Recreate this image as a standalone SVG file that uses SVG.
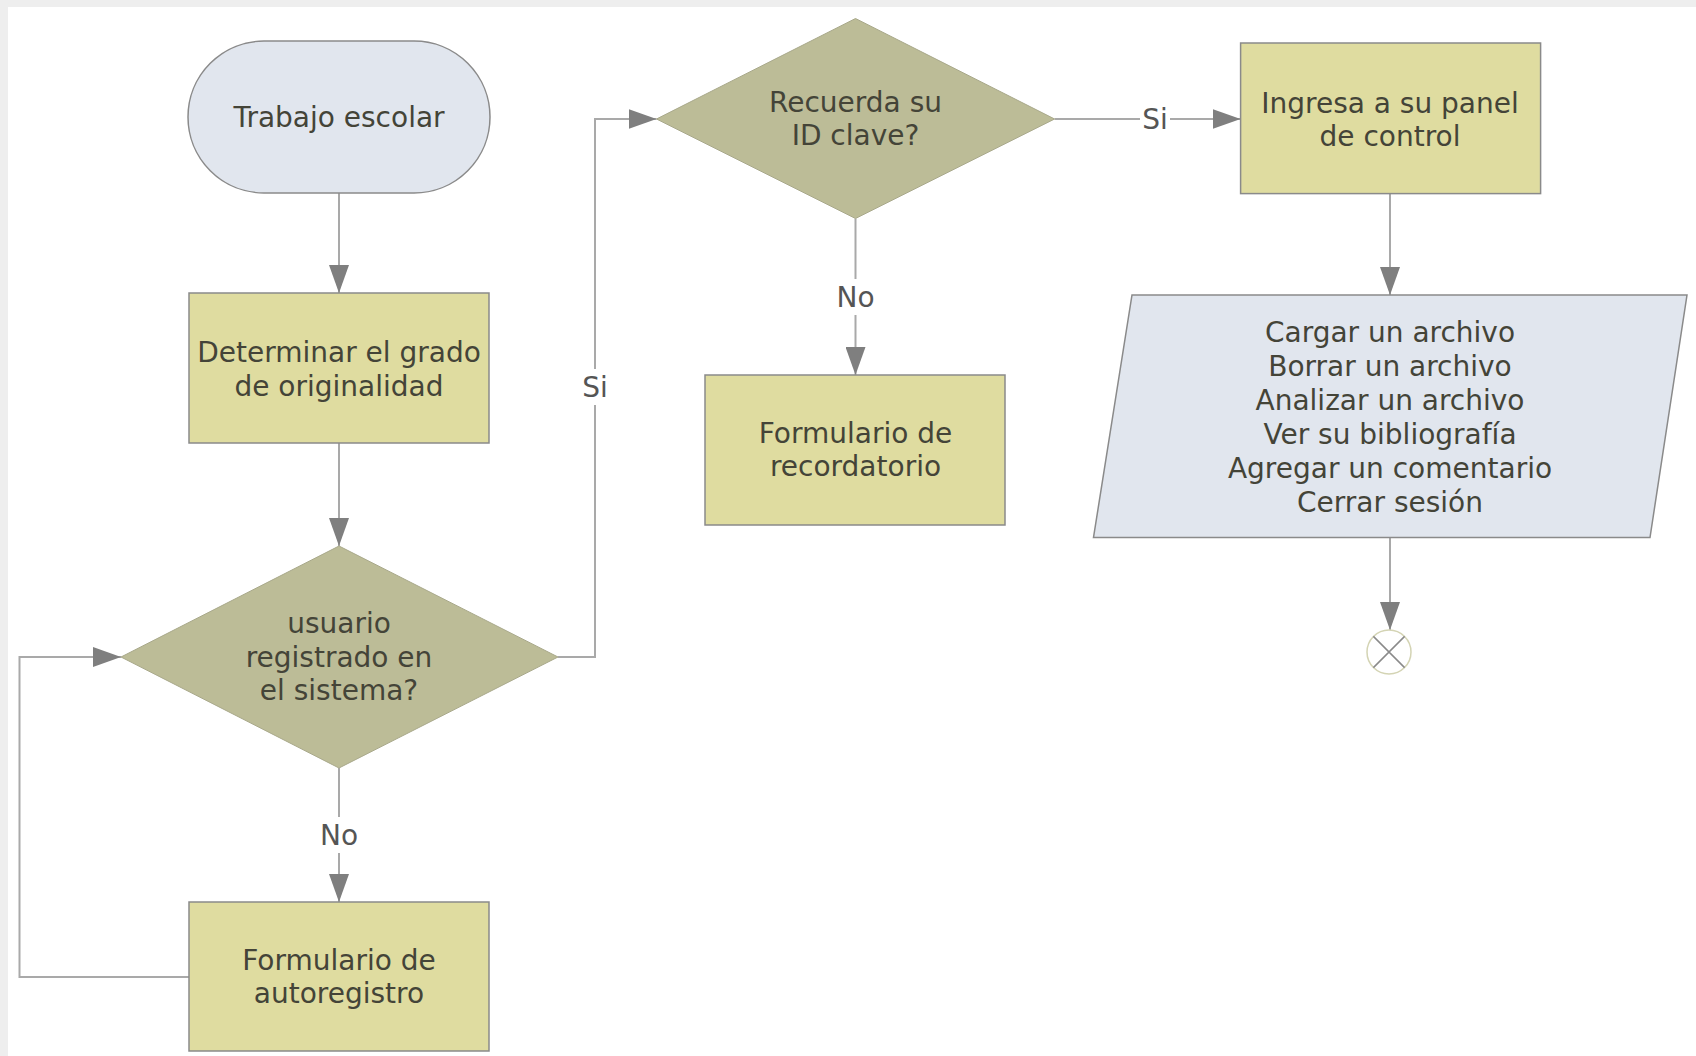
<svg xmlns="http://www.w3.org/2000/svg" width="1696" height="1056" viewBox="0 0 1696 1056">
<defs>
<marker id="arr" viewBox="0 0 28 20" refX="28" refY="10" markerWidth="28" markerHeight="20" markerUnits="userSpaceOnUse" orient="auto">
<path d="M0,0 L28,10 L0,20 Z" fill="#7f7f7f"/>
</marker>
</defs>
<style>
.bg{fill:#eeeeee}
.canvas{fill:#ffffff}
.term,.io{fill:#e1e6ee;stroke:#8a8a8a;stroke-width:1.5}
.proc{fill:#dfdca0;stroke:#8a8a8a;stroke-width:1.5}
.dec{fill:#bcbc97;stroke:#a8a88a;stroke-width:1}
.edge{fill:none;stroke:#a9a9a9;stroke-width:2;marker-end:url(#arr)}
.line{fill:none;stroke:#a9a9a9;stroke-width:2}
text{font-family:"DejaVu Sans",Verdana,sans-serif;font-size:28px;fill:#444438;text-anchor:middle}
.lbl{fill:#555555}
.lblbg{fill:#ffffff}
</style>
<rect class="bg" x="0" y="0" width="1696" height="1056"/>
<rect class="canvas" x="8" y="7" width="1688" height="1049"/>

<g id="connectors">
<path class="edge" d="M339,193 L339,293"/>
<path class="edge" d="M339,443 L339,546"/>
<path class="edge" d="M339,768 L339,902"/>
<path class="edge" d="M189,977 L19.5,977 L19.5,657 L121,657"/>
<path class="edge" d="M558,657 L595,657 L595,119 L656.5,119"/>
<path class="edge" d="M855.5,218.5 L855.5,375"/>
<path class="edge" d="M1054.6,119 L1240.6,119"/>
<path class="edge" d="M1390,193.6 L1390,295"/>
<path class="edge" d="M1390,537.5 L1390,630"/>
<rect class="lblbg" x="320" y="817" width="38" height="36"/>
<text class="lbl" x="339" y="845">No</text>
<rect class="lblbg" x="836" y="279" width="38" height="36"/>
<text class="lbl" x="855.5" y="307">No</text>
<rect class="lblbg" x="580" y="369" width="30" height="36"/>
<text class="lbl" x="595" y="397">Si</text>
<rect class="lblbg" x="1140" y="101" width="30" height="36"/>
<text class="lbl" x="1155" y="129">Si</text>
</g>

<g id="start">
<rect class="term" x="188" y="41" width="302" height="152" rx="76" ry="76"/>
<text x="339" y="127">Trabajo escolar</text>
</g>

<g id="determinar">
<rect class="proc" x="189" y="293" width="300" height="150"/>
<text x="339" y="362">Determinar el grado</text>
<text x="339" y="396">de originalidad</text>
</g>

<g id="registrado">
<polygon class="dec" points="339,546 558,657 339,768 121,657"/>
<text x="339" y="633">usuario</text>
<text x="339" y="667">registrado en</text>
<text x="339" y="700">el sistema?</text>
</g>

<g id="autoregistro">
<rect class="proc" x="189" y="902" width="300" height="149"/>
<text x="339" y="970">Formulario de</text>
<text x="339" y="1003">autoregistro</text>
</g>

<g id="recuerda">
<polygon class="dec" points="855.5,18.5 1054.6,119 855.5,218.5 656.5,119"/>
<text x="855.5" y="112">Recuerda su</text>
<text x="855.5" y="145">ID clave?</text>
</g>

<g id="recordatorio">
<rect class="proc" x="705" y="375" width="300" height="150"/>
<text x="855.5" y="443">Formulario de</text>
<text x="855.5" y="476">recordatorio</text>
</g>

<g id="panel">
<rect class="proc" x="1240.6" y="43" width="300" height="150.6"/>
<text x="1390" y="113">Ingresa a su panel</text>
<text x="1390" y="146">de control</text>
</g>

<g id="opciones">
<polygon class="io" points="1132,295 1687,295 1650,537.5 1093.5,537.5"/>
<text x="1390" y="342">Cargar un archivo</text>
<text x="1390" y="376">Borrar un archivo</text>
<text x="1390" y="410">Analizar un archivo</text>
<text x="1390" y="444">Ver su bibliografía</text>
<text x="1390" y="478">Agregar un comentario</text>
<text x="1390" y="512">Cerrar sesión</text>
</g>

<g id="fin">
<circle cx="1389" cy="652" r="22" fill="#ffffff" stroke="#d4d4b4" stroke-width="1.5"/>
<path d="M1373.4,636.4 L1404.6,667.6 M1404.6,636.4 L1373.4,667.6" stroke="#8a8a8a" stroke-width="1.5"/>
</g>
</svg>
